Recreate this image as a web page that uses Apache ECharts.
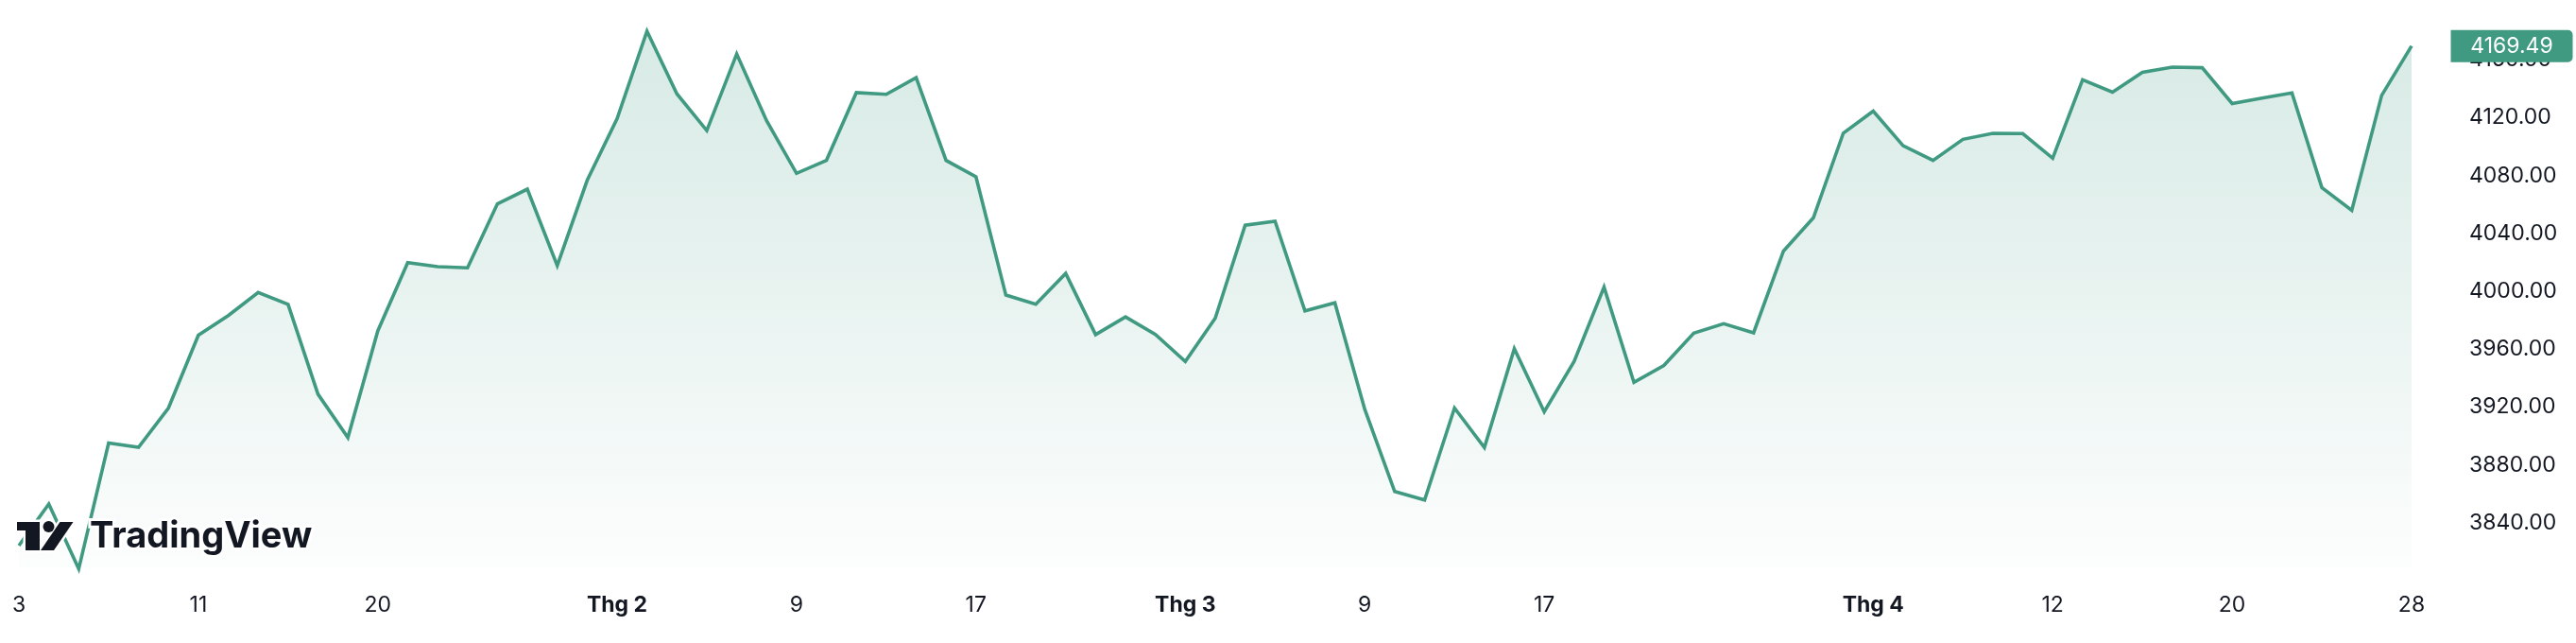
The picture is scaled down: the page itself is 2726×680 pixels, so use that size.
<!DOCTYPE html>
<html>
<head>
<meta charset="utf-8">
<script src="https://cdn.jsdelivr.net/npm/echarts@6/dist/echarts.min.js"></script>
<style>
html,body{margin:0;padding:0;background:#fff;}
#chart{width:2726px;height:680px;}
</style>
</head>
<body>
<div id="chart"></div>
<script>
// Trading days (2023)
const dates = [
 '01-03','01-04','01-05','01-06','01-09','01-10','01-11','01-12','01-13','01-17','01-18','01-19','01-20','01-23','01-24','01-25','01-26','01-27','01-30','01-31',
 '02-01','02-02','02-03','02-06','02-07','02-08','02-09','02-10','02-13','02-14','02-15','02-16','02-17','02-21','02-22','02-23','02-24','02-27','02-28',
 '03-01','03-02','03-03','03-06','03-07','03-08','03-09','03-10','03-13','03-14','03-15','03-16','03-17','03-20','03-21','03-22','03-23','03-24','03-27','03-28','03-29','03-30','03-31',
 '04-03','04-04','04-05','04-06','04-10','04-11','04-12','04-13','04-14','04-17','04-18','04-19','04-20','04-21','04-24','04-25','04-26','04-27','04-28'
];
const closes = [
 3824.14,3852.97,3808.10,3895.08,3892.09,3919.25,3969.61,3983.17,3999.09,3990.97,3928.86,3898.85,3972.61,4019.81,4016.95,4016.22,4060.43,4070.56,4017.77,4076.60,
 4119.21,4179.76,4136.48,4111.08,4164.00,4117.86,4081.50,4090.46,4137.29,4136.13,4147.60,4090.41,4079.09,3997.34,3991.05,4012.32,3970.04,3982.24,3970.15,
 3951.39,3981.35,4045.64,4048.42,3986.37,3992.01,3918.32,3861.59,3855.76,3919.29,3891.93,3960.28,3916.64,3951.57,4002.87,3936.97,3948.72,3970.99,3977.53,3971.27,4027.81,4050.83,4109.31,
 4124.51,4100.60,4090.38,4105.02,4109.11,4108.94,4091.95,4146.22,4137.64,4151.32,4154.87,4154.52,4129.79,4133.52,4137.04,4071.63,4055.99,4135.35,4169.49
];
const tickDates = ['01-03','01-11','01-20','02-01','02-09','02-17','03-01','03-09','03-17','04-03','04-12','04-20','04-28'];
const tickTexts = ['3','11','20','Thg 2','9','17','Thg 3','9','17','Thg 4','12','20','28'];
const monthTicks = ['Thg 2','Thg 3','Thg 4'];
const yLabelValues = [3840,3880,3920,3960,4000,4040,4080,4120,4160];

const green = '#3f9a81';
const textColor = '#131722';
const last = closes.length - 1;

const chart = echarts.init(document.getElementById('chart'), null, {renderer:'canvas'});
chart.setOption({
  animation: false,
  backgroundColor: '#ffffff',
  grid: { left: 20, right: 174, top: 2, height: 612, containLabel: false, outerBoundsMode: 'none' },
  xAxis: {
    type: 'category',
    data: dates,
    boundaryGap: false,
    axisLine: { show: false },
    axisTick: { show: false },
    splitLine: { show: false },
    axisLabel: {
      show: true,
      margin: 15,
      hideOverlap: false,
      interval: function (idx, val) { return tickDates.indexOf(val) >= 0; },
      formatter: function (val) {
        const i = tickDates.indexOf(val);
        if (i < 0) return '';
        const t = tickTexts[i];
        return monthTicks.indexOf(t) >= 0 ? '{b|' + t + '}' : t;
      },
      color: textColor,
      fontFamily: 'Inter',
      fontSize: 23,
      rich: { b: { fontWeight: 'bold', fontFamily: 'Inter', fontSize: 23, color: textColor } }
    }
  },
  yAxis: {
    type: 'value',
    position: 'right',
    min: 3800,
    max: 4200,
    interval: 40,
    axisLine: { show: false },
    axisTick: { show: false },
    splitLine: { show: false },
    axisLabel: {
      margin: 61,
      color: textColor,
      fontFamily: 'Inter',
      fontSize: 23,
      formatter: function (v) { return yLabelValues.indexOf(v) >= 0 ? v.toFixed(2) : ''; }
    }
  },
  series: [{
    type: 'line',
    data: closes,
    symbol: 'none',
    clip: false,
    lineStyle: { color: green, width: 3.6, join: 'miter' },
    areaStyle: {
      origin: 3809.2,
      color: new echarts.graphic.LinearGradient(0, 0, 0, 1, [
        { offset: 0, color: 'rgba(63,154,129,0.29)' },
        { offset: 0.5, color: 'rgba(63,154,129,0.17)' },
        { offset: 1, color: 'rgba(63,154,129,0.02)' }
      ])
    },
    markPoint: {
      silent: true,
      symbol: 'path://M0,0 H124 A5,5 0 0 1 129,5 V29 A5,5 0 0 1 124,34 H0 Z',
      symbolSize: [129, 34],
      symbolOffset: [106, 0],
      itemStyle: { color: green },
      label: {
        show: true,
        position: 'inside',
        color: '#ffffff',
        fontFamily: 'Inter',
        fontSize: 23,
        formatter: function (p) { return p.value.toFixed(2); }
      },
      data: [{ coord: [dates[last], closes[last]], value: closes[last] }]
    }
  }],
  graphic: [
    { type: 'polygon', z: 100, shape: { points: [[18,552],[42,552],[42,582],[27,582],[27,561],[18,561]] },
      style: { fill: textColor, stroke: '#fff', lineWidth: 5 } },
    { type: 'circle', z: 100, shape: { cx: 51.5, cy: 557, r: 6 }, style: { fill: textColor, stroke: '#fff', lineWidth: 5 } },
    { type: 'polygon', z: 100, shape: { points: [[63.5,552],[77.5,552],[57,582],[43,582]] },
      style: { fill: textColor, stroke: '#fff', lineWidth: 5 } },
    { type: 'polygon', z: 101, shape: { points: [[18,552],[42,552],[42,582],[27,582],[27,561],[18,561]] },
      style: { fill: textColor } },
    { type: 'circle', z: 101, shape: { cx: 51.5, cy: 557, r: 6 }, style: { fill: textColor } },
    { type: 'polygon', z: 101, shape: { points: [[63.5,552],[77.5,552],[57,582],[43,582]] },
      style: { fill: textColor } },
    { type: 'text', z: 101, x: 95, y: 568, style: { text: 'TradingView', fill: textColor, stroke: '#fff', lineWidth: 6,
      font: 'bold 38px Inter', verticalAlign: 'middle' } }
  ]
});
</script>
</body>
</html>
